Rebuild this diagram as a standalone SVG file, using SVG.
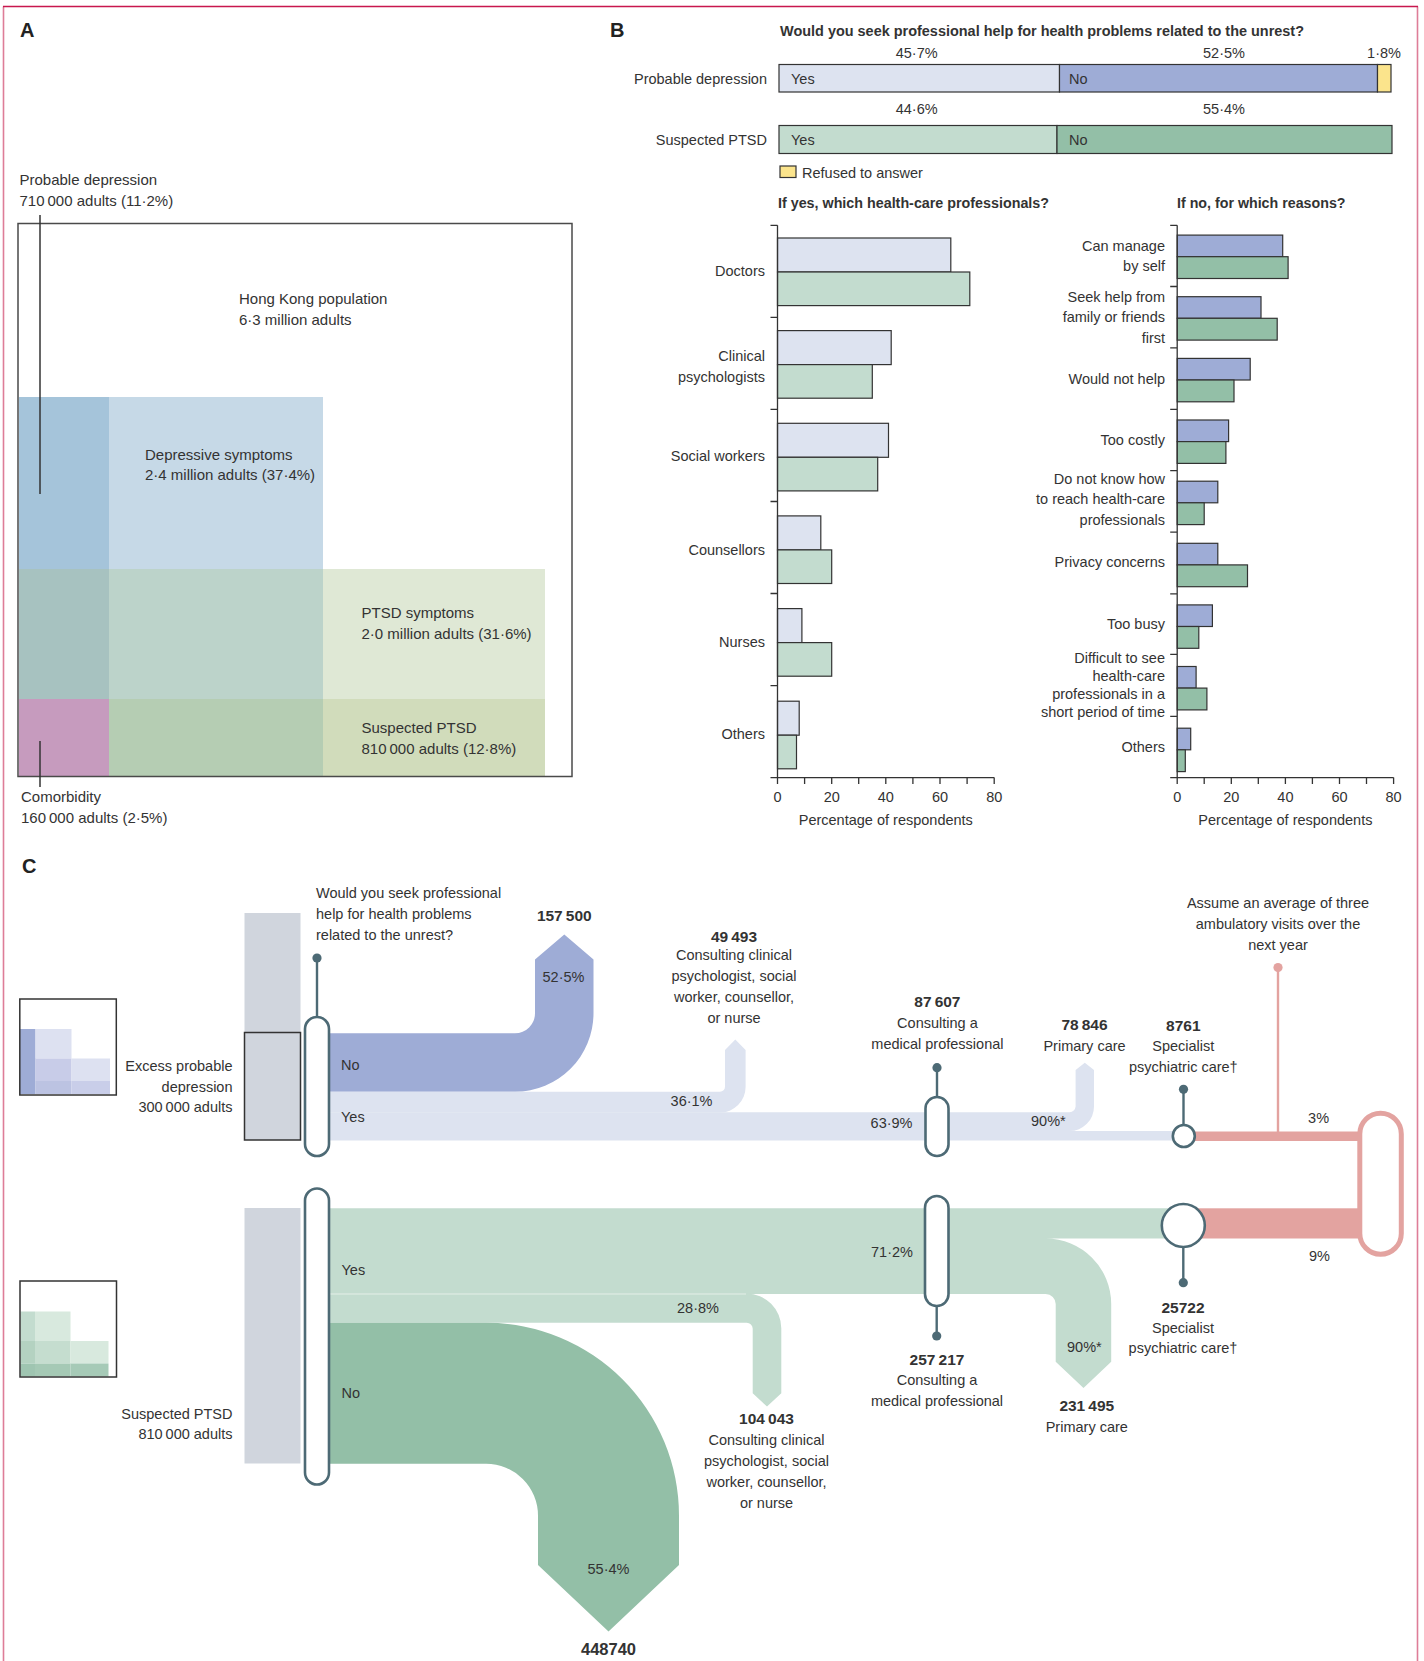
<svg xmlns="http://www.w3.org/2000/svg" width="1424" height="1661" viewBox="0 0 1424 1661">
<defs>
<style>
text{font-family:"Liberation Sans",Arial,sans-serif;font-size:14.5px;fill:#333}
.b{font-weight:bold}
.n{font-weight:bold;font-size:15.5px}
.pa{font-size:15px}
.h{font-weight:bold;font-size:20px;fill:#222}
.e{text-anchor:end}
.m{text-anchor:middle}
.bar{stroke:#333;stroke-width:1.2}
.ax{stroke:#333;stroke-width:1.3;fill:none}
.pill{fill:#fff;stroke:#4d6a75;stroke-width:2.6}
.pin{stroke:#4d6a75;stroke-width:2.4}
.dot{fill:#4d6a75}
.lav{fill:#dde3f0}.blu{fill:#9eacd6}.lgr{fill:#c3dccf}.grn{fill:#93bfa7}.sal{fill:#e3a3a0}.yel{fill:#fbe48c}
.gry{fill:#d0d5dd}
.lead{stroke:#333;stroke-width:1.5}
</style>
</defs>
<rect width="1424" height="1661" fill="#fff"/>
<g id="frame" fill="none">
<path d="M3.5 1661V6.5M1417.5 6.5V1661" stroke="#de7d98" stroke-width="1.6"/>
<path d="M3 6.5H1418" stroke="#c8174e" stroke-width="1.6"/>
</g>

<!-- PANEL A -->
<g id="panel-a">
<text class="h" x="20" y="37">A</text>
<rect x="18" y="223.5" width="554" height="553" fill="#fff"/>
<rect x="19" y="397" width="90" height="172" fill="#a5c4da"/>
<rect x="109" y="397" width="214" height="172" fill="#c6d9e7"/>
<rect x="19" y="569" width="90" height="130" fill="#a7c2c0"/>
<rect x="109" y="569" width="214" height="130" fill="#bcd3ca"/>
<rect x="323" y="569" width="222" height="130" fill="#dfe8d5"/>
<rect x="19" y="699" width="90" height="77" fill="#c69bbe"/>
<rect x="109" y="699" width="214" height="77" fill="#b5cdb3"/>
<rect x="323" y="699" width="222" height="77" fill="#d1dcbb"/>
<rect x="18" y="223.5" width="554" height="553" fill="none" stroke="#4a4a4a" stroke-width="1.5"/>
<line class="lead" x1="40" y1="215" x2="40" y2="494"/>
<line class="lead" x1="40" y1="741" x2="40" y2="787"/>
<text class="pa" x="19.5" y="185">Probable depression</text>
<text class="pa" x="19.5" y="206">710&#8201;000 adults (11·2%)</text>
<text class="pa" x="239" y="304">Hong Kong population</text>
<text class="pa" x="239" y="325">6·3 million adults</text>
<text class="pa" x="145" y="459.5">Depressive symptoms</text>
<text class="pa" x="145" y="480">2·4 million adults (37·4%)</text>
<text class="pa" x="361.5" y="618">PTSD symptoms</text>
<text class="pa" x="361.5" y="638.5">2·0 million adults (31·6%)</text>
<text class="pa" x="361.5" y="733">Suspected PTSD</text>
<text class="pa" x="361.5" y="754">810&#8201;000 adults (12·8%)</text>
<text class="pa" x="21" y="802">Comorbidity</text>
<text class="pa" x="21" y="822.5">160&#8201;000 adults (2·5%)</text>
</g>

<!-- PANEL B -->
<g id="panel-b">
<text class="h" x="610" y="37">B</text>
<text class="b" x="780" y="36" textLength="524" lengthAdjust="spacingAndGlyphs">Would you seek professional help for health problems related to the unrest?</text>
<g id="stacked-bars">
<text class="m" x="916.7" y="57.5">45·7%</text>
<text class="m" x="1224" y="57.5">52·5%</text>
<text class="m" x="1384" y="57.5">1·8%</text>
<text class="e" x="767" y="84">Probable depression</text>
<rect class="lav bar" x="779" y="64.5" width="280.5" height="27.5"/>
<rect class="blu bar" x="1059.5" y="64.5" width="318" height="27.5"/>
<rect class="yel bar" x="1377.5" y="64.5" width="13.5" height="27.5"/>
<text x="791" y="84">Yes</text>
<text x="1069" y="84">No</text>
<text class="m" x="916.7" y="114">44·6%</text>
<text class="m" x="1224" y="114">55·4%</text>
<text class="e" x="767" y="144.5">Suspected PTSD</text>
<rect class="lgr bar" x="779" y="125.5" width="278" height="28"/>
<rect class="grn bar" x="1057" y="125.5" width="335" height="28"/>
<text x="791" y="144.5">Yes</text>
<text x="1069" y="144.5">No</text>
<rect class="yel bar" x="780" y="166" width="16" height="11.5"/>
<text x="802" y="177.5">Refused to answer</text>
</g>
<text class="b" x="778" y="208" textLength="271" lengthAdjust="spacingAndGlyphs">If yes, which health-care professionals?</text>
<text class="b" x="1177" y="208" textLength="168.5" lengthAdjust="spacingAndGlyphs">If no, for which reasons?</text>

<g id="chart-yes">
<rect class="lav bar" x="777.5" y="238" width="173.3" height="34"/>
<rect class="lgr bar" x="777.5" y="272" width="192.3" height="33.6"/>
<rect class="lav bar" x="777.5" y="330.6" width="113.7" height="34"/>
<rect class="lgr bar" x="777.5" y="364.6" width="94.8" height="33.6"/>
<rect class="lav bar" x="777.5" y="423.3" width="111" height="34"/>
<rect class="lgr bar" x="777.5" y="457.3" width="100.2" height="33.6"/>
<rect class="lav bar" x="777.5" y="515.9" width="43.3" height="34"/>
<rect class="lgr bar" x="777.5" y="549.9" width="54.2" height="33.6"/>
<rect class="lav bar" x="777.5" y="608.6" width="24.4" height="34"/>
<rect class="lgr bar" x="777.5" y="642.6" width="54.2" height="33.6"/>
<rect class="lav bar" x="777.5" y="701.2" width="21.7" height="34"/>
<rect class="lgr bar" x="777.5" y="735.2" width="19" height="33.6"/>
<path class="ax" d="M777.5 225.3V777.6M770.5 225.3H777.5M770.5 317.4H777.5M770.5 409.4H777.5M770.5 501.5H777.5M770.5 593.5H777.5M770.5 685.6H777.5M770.5 777.6H994.2"/>
<path class="ax" d="M777.5 777.6v6.5M804.6 777.6v6.5M831.7 777.6v6.5M858.7 777.6v6.5M885.8 777.6v6.5M912.9 777.6v6.5M940 777.6v6.5M967.1 777.6v6.5M994.2 777.6v6.5"/>
<text class="m" x="777.5" y="801.5">0</text>
<text class="m" x="831.7" y="801.5">20</text>
<text class="m" x="885.8" y="801.5">40</text>
<text class="m" x="940" y="801.5">60</text>
<text class="m" x="994.2" y="801.5">80</text>
<text class="m" x="885.8" y="824.5">Percentage of respondents</text>
<text class="e" x="765" y="276">Doctors</text>
<text class="e" x="765" y="361">Clinical</text>
<text class="e" x="765" y="382.4">psychologists</text>
<text class="e" x="765" y="461">Social workers</text>
<text class="e" x="765" y="555">Counsellors</text>
<text class="e" x="765" y="647">Nurses</text>
<text class="e" x="765" y="738.8">Others</text>
</g>

<g id="chart-no">
<rect class="blu bar" x="1177.2" y="235.1" width="105.5" height="21.6"/>
<rect class="grn bar" x="1177.2" y="256.7" width="110.9" height="21.8"/>
<rect class="blu bar" x="1177.2" y="296.7" width="83.8" height="21.6"/>
<rect class="grn bar" x="1177.2" y="318.3" width="100" height="21.8"/>
<rect class="blu bar" x="1177.2" y="358.4" width="73" height="21.6"/>
<rect class="grn bar" x="1177.2" y="380" width="56.8" height="21.8"/>
<rect class="blu bar" x="1177.2" y="420" width="51.4" height="21.6"/>
<rect class="grn bar" x="1177.2" y="441.6" width="48.7" height="21.8"/>
<rect class="blu bar" x="1177.2" y="481.2" width="40.6" height="21.6"/>
<rect class="grn bar" x="1177.2" y="502.8" width="27" height="21.8"/>
<rect class="blu bar" x="1177.2" y="543.3" width="40.6" height="21.6"/>
<rect class="grn bar" x="1177.2" y="564.9" width="70.3" height="21.8"/>
<rect class="blu bar" x="1177.2" y="604.9" width="35.2" height="21.6"/>
<rect class="grn bar" x="1177.2" y="626.5" width="21.6" height="21.8"/>
<rect class="blu bar" x="1177.2" y="666.5" width="18.9" height="21.6"/>
<rect class="grn bar" x="1177.2" y="688.1" width="29.7" height="21.8"/>
<rect class="blu bar" x="1177.2" y="728.2" width="13.5" height="21.6"/>
<rect class="grn bar" x="1177.2" y="749.8" width="8.1" height="21.8"/>
<path class="ax" d="M1177.2 225.3V777.6M1170.2 225.3H1177.2M1170.2 286.5H1177.2M1170.2 347.8H1177.2M1170.2 409.4H1177.2M1170.2 470.6H1177.2M1170.2 532.2H1177.2M1170.2 593.9H1177.2M1170.2 654.3H1177.2M1170.2 716.3H1177.2M1170.2 777.6H1393.6"/>
<path class="ax" d="M1177.2 777.6v6.5M1204.2 777.6v6.5M1231.3 777.6v6.5M1258.3 777.6v6.5M1285.4 777.6v6.5M1312.4 777.6v6.5M1339.5 777.6v6.5M1366.5 777.6v6.5M1393.6 777.6v6.5"/>
<text class="m" x="1177.2" y="801.5">0</text>
<text class="m" x="1231.3" y="801.5">20</text>
<text class="m" x="1285.4" y="801.5">40</text>
<text class="m" x="1339.5" y="801.5">60</text>
<text class="m" x="1393.6" y="801.5">80</text>
<text class="m" x="1285.4" y="824.5">Percentage of respondents</text>
<text class="e" x="1165" y="251">Can manage</text>
<text class="e" x="1165" y="271.4">by self</text>
<text class="e" x="1165" y="302">Seek help from</text>
<text class="e" x="1165" y="322.4">family or friends</text>
<text class="e" x="1165" y="342.9">first</text>
<text class="e" x="1165" y="383.7">Would not help</text>
<text class="e" x="1165" y="444.9">Too costly</text>
<text class="e" x="1165" y="483.7">Do not know how</text>
<text class="e" x="1165" y="504">to reach health-care</text>
<text class="e" x="1165" y="524.5">professionals</text>
<text class="e" x="1165" y="567.3">Privacy concerns</text>
<text class="e" x="1165" y="629.4">Too busy</text>
<text class="e" x="1165" y="663.3">Difficult to see</text>
<text class="e" x="1165" y="681.2">health-care</text>
<text class="e" x="1165" y="699.1">professionals in a</text>
<text class="e" x="1165" y="717.3">short period of time</text>
<text class="e" x="1165" y="751.8">Others</text>
</g>
</g>

<!-- PANEL C -->
<g id="panel-c">
<text class="h" x="22" y="873">C</text>

<g id="connectors">
<!-- depression flows -->
<path class="blu" d="M317 1033.3H515A20 20 0 0 0 535 1013.3V959.5L564.3 934.5L593.5 959.5V1013.3A78.5 78.5 0 0 1 515 1091.8H317Z"/>
<path class="lav" d="M317 1091.8H720A5 5 0 0 0 725 1086.8V1050L735.3 1039.5L745.6 1050V1087A25.6 25.6 0 0 1 720 1112.6H317Z"/>
<path class="lav" d="M317 1112.2H1069.6A6 6 0 0 0 1075.6 1106.6V1070L1084.8 1062.7L1094 1070V1106.6A24.4 24.4 0 0 1 1069.6 1131H1184V1140.5H317Z"/>
<rect class="sal" x="1184" y="1131.5" width="196" height="9.5"/>
<!-- PTSD flows -->
<path class="lgr" d="M317 1208.3H1184V1238.5H1045.7A65.5 65.5 0 0 1 1111.2 1304V1361.7L1083.5 1388L1055.7 1361.7V1304A10 10 0 0 0 1045.7 1294H317Z"/>
<path class="lgr" d="M317 1293.6H746.7A34.6 34.6 0 0 1 781.3 1328.2V1393.3L767 1406.5L752.7 1393.3V1328.7A6 6 0 0 0 746.7 1322.7H317Z"/>
<line x1="329" y1="1294" x2="746" y2="1294" stroke="#e4efe8" stroke-width="1"/>
<path class="grn" d="M317 1322.7H486A193 193 0 0 1 679 1515.7V1565L608.5 1631.5L538 1565V1515.7A52 52 0 0 0 486 1463.7H317Z"/>
<rect class="sal" x="1184" y="1208.3" width="196" height="30.2"/>
<!-- annotation pin -->
<line x1="1278" y1="967.5" x2="1278" y2="1132" stroke="#e3a3a0" stroke-width="2.4"/>
<circle cx="1278" cy="967.5" r="4.6" fill="#e3a3a0"/>
</g>

<g id="node-depression-mini">
<rect x="19.8" y="999" width="96.5" height="96" fill="#fff"/>
<rect x="20" y="1029" width="15.5" height="65" fill="#9eacd6"/>
<rect x="35.5" y="1029" width="36" height="29.5" fill="#dde1f1"/>
<rect x="35.5" y="1058.5" width="36" height="22.5" fill="#c8cce8"/>
<rect x="35.5" y="1081" width="36" height="13" fill="#bcc3e2"/>
<rect x="71.5" y="1058.5" width="38.5" height="22.5" fill="#dde1f1"/>
<rect x="71.5" y="1081" width="38.5" height="13" fill="#c9cee9"/>
<rect x="19.8" y="999" width="96.5" height="96" fill="none" stroke="#333" stroke-width="1.5"/>
</g>
<g id="node-ptsd-mini">
<rect x="20" y="1281" width="96.5" height="96" fill="#fff"/>
<rect x="20.5" y="1311.5" width="14.5" height="29.5" fill="#c3dccf"/>
<rect x="35" y="1311.5" width="35.5" height="29.5" fill="#d8e9de"/>
<rect x="20.5" y="1341" width="14.5" height="22.5" fill="#b4d2c1"/>
<rect x="35" y="1341" width="35.5" height="22.5" fill="#c5ddcf"/>
<rect x="70.5" y="1341" width="38" height="22.5" fill="#d8e9de"/>
<rect x="20.5" y="1363.5" width="14.5" height="13" fill="#9fc5b1"/>
<rect x="35" y="1363.5" width="35.5" height="13" fill="#a5c9b5"/>
<rect x="70.5" y="1363.5" width="38" height="13" fill="#a6cab7"/>
<rect x="20" y="1281" width="96.5" height="96" fill="none" stroke="#333" stroke-width="1.5"/>
</g>

<g id="node-depression-source">
<rect class="gry" x="244.5" y="913" width="56" height="227"/>
<rect x="244.5" y="1032.5" width="56" height="107.5" fill="none" stroke="#333" stroke-width="1.5"/>
<text class="e" x="232.5" y="1071">Excess probable</text>
<text class="e" x="232.5" y="1091.5">depression</text>
<text class="e" x="232.5" y="1112">300&#8201;000 adults</text>
</g>
<g id="node-ptsd-source">
<rect class="gry" x="244.5" y="1208" width="56" height="255.5"/>
<text class="e" x="232.5" y="1418.5">Suspected PTSD</text>
<text class="e" x="232.5" y="1439">810&#8201;000 adults</text>
</g>

<g id="node-question-depression">
<line class="pin" x1="317" y1="958" x2="317" y2="1017"/>
<circle class="dot" cx="317" cy="958" r="4.6"/>
<rect class="pill" x="305" y="1017" width="24" height="139" rx="12"/>
<text x="316" y="898">Would you seek professional</text>
<text x="316" y="919">help for health problems</text>
<text x="316" y="940">related to the unrest?</text>
<text x="341" y="1070">No</text>
<text x="341" y="1122">Yes</text>
</g>
<g id="node-question-ptsd">
<rect class="pill" x="305" y="1188.5" width="24" height="296" rx="12"/>
<text x="341.5" y="1275">Yes</text>
<text x="341.5" y="1398">No</text>
</g>

<g id="node-no-depression">
<text class="n m" x="564.3" y="921">157&#8201;500</text>
<text class="m" x="563.5" y="982">52·5%</text>
</g>
<g id="node-clinical-depression">
<text class="n m" x="734" y="941.5">49&#8201;493</text>
<text class="m" x="734" y="960">Consulting clinical</text>
<text class="m" x="734" y="981">psychologist, social</text>
<text class="m" x="734" y="1002">worker, counsellor,</text>
<text class="m" x="734" y="1023">or nurse</text>
<text x="670.6" y="1106">36·1%</text>
</g>
<g id="node-medical-depression">
<line class="pin" x1="937" y1="1067.7" x2="937" y2="1097"/>
<circle class="dot" cx="937" cy="1067.7" r="4.6"/>
<rect class="pill" x="925.5" y="1097" width="23" height="59" rx="11.5"/>
<text class="n m" x="937.4" y="1006.7">87&#8201;607</text>
<text class="m" x="937.4" y="1028">Consulting a</text>
<text class="m" x="937.4" y="1049">medical professional</text>
<text x="870.6" y="1128">63·9%</text>
</g>
<g id="node-primary-depression">
<text class="n m" x="1084.5" y="1030">78&#8201;846</text>
<text class="m" x="1084.5" y="1050.7">Primary care</text>
<text x="1031" y="1126">90%*</text>
</g>
<g id="node-specialist-depression">
<line class="pin" x1="1183.5" y1="1089.3" x2="1183.5" y2="1125"/>
<circle class="dot" cx="1183.5" cy="1089.3" r="4.6"/>
<circle class="pill" cx="1183.8" cy="1136" r="11"/>
<text class="n m" x="1183.3" y="1030.7">8761</text>
<text class="m" x="1183.3" y="1051">Specialist</text>
<text class="m" x="1183.3" y="1071.7">psychiatric care†</text>
</g>

<g id="node-no-ptsd">
<text class="m" x="608.5" y="1574">55·4%</text>
<text class="n m" x="608.5" y="1655" style="font-size:16.5px">448740</text>
</g>
<g id="node-clinical-ptsd">
<text x="677" y="1312.5">28·8%</text>
<text class="n m" x="766.5" y="1424">104&#8201;043</text>
<text class="m" x="766.5" y="1445">Consulting clinical</text>
<text class="m" x="766.5" y="1466">psychologist, social</text>
<text class="m" x="766.5" y="1486.7">worker, counsellor,</text>
<text class="m" x="766.5" y="1507.5">or nurse</text>
</g>
<g id="node-medical-ptsd">
<rect class="pill" x="925" y="1196" width="23.5" height="110" rx="11.75"/>
<line class="pin" x1="936.7" y1="1306" x2="936.7" y2="1336"/>
<circle class="dot" cx="936.7" cy="1336" r="4.6"/>
<text x="871" y="1257">71·2%</text>
<text class="n m" x="937" y="1365">257&#8201;217</text>
<text class="m" x="937" y="1385">Consulting a</text>
<text class="m" x="937" y="1406">medical professional</text>
</g>
<g id="node-primary-ptsd">
<text x="1067" y="1352">90%*</text>
<text class="n m" x="1086.8" y="1410.7">231&#8201;495</text>
<text class="m" x="1086.8" y="1431.7">Primary care</text>
</g>
<g id="node-specialist-ptsd">
<circle class="pill" cx="1183.3" cy="1225.5" r="21.5"/>
<line class="pin" x1="1183.3" y1="1247" x2="1183.3" y2="1282.7"/>
<circle class="dot" cx="1183.3" cy="1282.7" r="4.6"/>
<text class="n m" x="1183" y="1313.3">25722</text>
<text class="m" x="1183" y="1333.3">Specialist</text>
<text class="m" x="1183" y="1353.3">psychiatric care†</text>
</g>

<g id="node-ambulatory">
<rect x="1359.8" y="1113.2" width="41.5" height="141" rx="20.75" fill="#fff" stroke="#e3a3a0" stroke-width="5"/>
<text class="m" x="1278" y="908">Assume an average of three</text>
<text class="m" x="1278" y="929">ambulatory visits over the</text>
<text class="m" x="1278" y="950">next year</text>
<text class="m" x="1318.6" y="1123">3%</text>
<text class="m" x="1319.5" y="1261">9%</text>
</g>
</g>
</svg>
